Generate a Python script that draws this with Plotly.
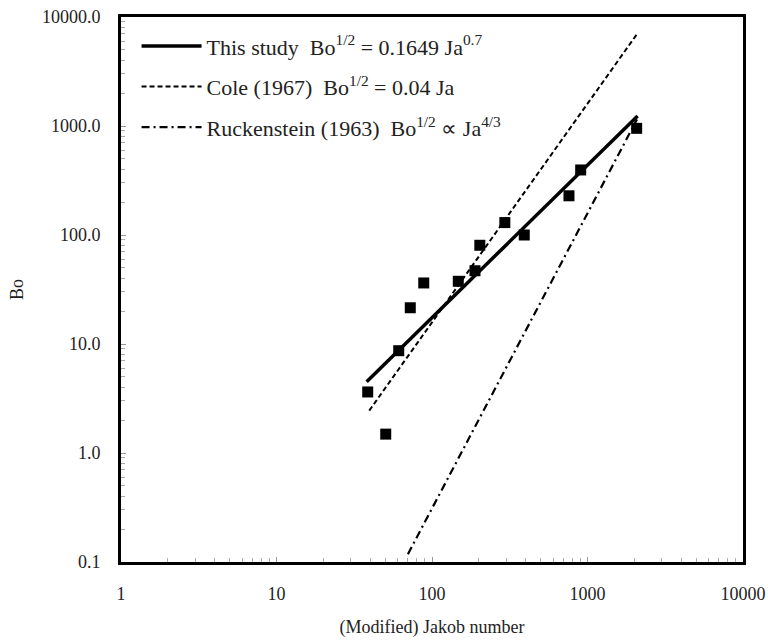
import plotly.graph_objects as go

# Measured data points (Modified Jakob number, Bond number)
ja_points = [38.6, 50.4, 61.1, 72.5, 88.5, 147.6, 189, 203, 294, 392, 760, 904, 2071]
bo_points = [3.63, 1.49, 8.68, 21.5, 36.3, 37.6, 47.0, 80.5, 130, 100, 229, 395, 952]

# Correlation lines (end points)
ja_this = [38.0, 2100]
bo_this = [4.5, 1235]
ja_cole = [39.5, 2100]
bo_cole = [2.45, 7100]
ja_ruck = [70.0, 2080]
bo_ruck = [0.118, 1150]

x_tickvals = [1, 10, 100, 1000, 10000]
x_ticktext = ["1", "10", "100", "1000", "10000"]
y_tickvals = [0.1, 1, 10, 100, 1000, 10000]
y_ticktext = ["0.1", "1.0", "10.0", "100.0", "1000.0", "10000.0"]

names = [
    "This study  Bo<sup>1/2</sup> = 0.1649 Ja<sup>0.7</sup>",
    "Cole (1967)  Bo<sup>1/2</sup> = 0.04 Ja",
    "Ruckenstein (1963)  Bo<sup>1/2</sup> \u221d Ja<sup>4/3</sup>",
]

serif = "Liberation Serif"

fig = go.Figure()
fig.add_trace(go.Scatter(x=ja_this, y=bo_this, mode="lines", name=names[0],
                         legendgroup="a", line=dict(color="black", width=3.5)))
fig.add_trace(go.Scatter(x=ja_cole, y=bo_cole, mode="lines", name=names[1],
                         legendgroup="b", line=dict(color="black", width=2, dash="5px,3px")))
fig.add_trace(go.Scatter(x=ja_ruck, y=bo_ruck, mode="lines", name=names[2],
                         legendgroup="c", line=dict(color="black", width=2.2, dash="8px,4px,2px,4px")))
fig.add_trace(go.Scatter(x=ja_points, y=bo_points, mode="markers", showlegend=False,
                         marker=dict(symbol="square", size=11, color="black")))

axis_common = dict(
    type="log", showgrid=False, zeroline=False, automargin=False,
    showline=True, linecolor="black", linewidth=3, mirror=True,
    ticks="inside", ticklen=5, tickcolor="#999", tickwidth=1,
    tickfont=dict(family=serif, size=18, color="#222"),
    minor=dict(ticks="inside", ticklen=4, tickcolor="#aaa", tickwidth=1, dtick="D1", showgrid=False),
)

fig.update_xaxes(range=[0, 4], tickvals=x_tickvals, ticktext=x_ticktext,
                 title=dict(text="(Modified) Jakob number", font=dict(family=serif, size=18, color="#222"), standoff=18),
                 ticklabelstandoff=13, **axis_common)
fig.update_yaxes(range=[-1, 4], tickvals=y_tickvals, ticktext=y_ticktext,
                 title=dict(text="Bo", font=dict(family=serif, size=18, color="#222"), standoff=14),
                 ticklabelstandoff=14, **axis_common)

fig.update_layout(
    width=768, height=641,
    margin=dict(l=121, r=25, t=17, b=79),
    plot_bgcolor="white", paper_bgcolor="white",
    font=dict(family=serif, color="#222"),
    legend=dict(x=0.025, y=0.985, xanchor="left", yanchor="top",
                bgcolor="rgba(0,0,0,0)", itemwidth=60, tracegroupgap=9,
                traceorder="grouped",
                font=dict(family=serif, size=22, color="#222")),
)

fig.write_html("out.html")
